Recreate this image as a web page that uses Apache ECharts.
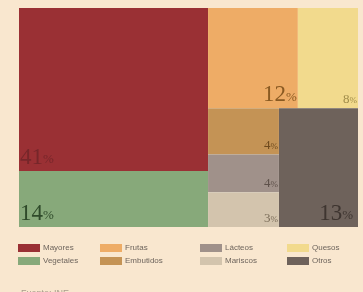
<!DOCTYPE html>
<html>
<head>
<meta charset="utf-8">
<script src="https://cdn.jsdelivr.net/npm/echarts@6/dist/echarts.min.js"></script>
<style>
  html, body { margin: 0; padding: 0; background: #f9e7cf; }
  #chart { width: 363px; height: 292px; }
</style>
</head>
<body>
<div id="chart"></div>
<script>
  // categorías (orden del treemap)
  const categories = ['Mayores', 'Vegetales', 'Frutas', 'Quesos', 'Embutidos', 'Lácteos', 'Mariscos', 'Otros'];
  // porcentajes
  const shares = [41.4, 14.2, 12.1, 8.1, 4.4, 3.6, 3.3, 12.6];
  // orden de la leyenda, por columnas
  const legendColumns = [['Mayores', 'Vegetales'], ['Frutas', 'Embutidos'], ['Lácteos', 'Mariscos'], ['Quesos', 'Otros']];

  const colors = {
    'Mayores': '#9a3034', 'Vegetales': '#87a97a', 'Frutas': '#eeac66', 'Quesos': '#f2da8d',
    'Embutidos': '#c49355', 'Lácteos': '#a0918a', 'Mariscos': '#d3c4ad', 'Otros': '#6e625b'
  };
  const labelColors = {
    'Mayores': '#76262a', 'Vegetales': '#2f4a2a', 'Frutas': '#8a5a22', 'Quesos': '#a08c4a',
    'Embutidos': '#6e4a1e', 'Lácteos': '#5e514a', 'Mariscos': '#7a6c58', 'Otros': '#3e3530'
  };
  const leftSide = ['Mayores', 'Vegetales'];
  const bigLabels = ['Mayores', 'Vegetales', 'Frutas', 'Otros'];

  function leaf(name) {
    const i = categories.indexOf(name);
    const big = bigLabels.includes(name);
    const left = leftSide.includes(name);
    return {
      name: name,
      value: shares[i],
      itemStyle: { color: colors[name] },
      label: {
        show: true,
        align: left ? 'left' : 'right',
        padding: [0, name === 'Otros' ? 5 : 1, 0, 1],
        formatter: function (p) {
          return (big ? '{a|' : '{c|') + Math.round(p.value) + '}' + (big ? '{b|%}' : '{d|%}');
        },
        rich: {
          a: { fontSize: 23, fontFamily: 'Liberation Serif', color: labelColors[name] },
          b: { fontSize: 13, fontFamily: 'Liberation Serif', color: labelColors[name], padding: [5, 0, 0, 0] },
          c: { fontSize: 13, fontFamily: 'Liberation Serif', color: labelColors[name] },
          d: { fontSize: 9, fontFamily: 'Liberation Serif', color: labelColors[name], padding: [2, 0, 0, 0] }
        }
      }
    };
  }

  // jerarquía que reproduce la distribución de bloques
  const treeData = [
    { name: 'izq', children: [leaf('Mayores'), leaf('Vegetales')] },
    {
      name: 'der', children: [
        { name: 'arriba', children: [leaf('Frutas'), leaf('Quesos')] },
        {
          name: 'abajo', children: [
            { name: 'pila', children: [leaf('Embutidos'), leaf('Lácteos'), leaf('Mariscos')] },
            leaf('Otros')
          ]
        }
      ]
    }
  ];

  // series vacías sólo para la leyenda
  const legendSeries = categories.map(function (name) {
    return { type: 'bar', name: name, data: [], itemStyle: { color: colors[name] } };
  });

  const legendLefts = [18, 100, 200, 287];
  const legends = legendColumns.map(function (col, k) {
    return {
      orient: 'vertical',
      left: legendLefts[k],
      top: 244,
      data: col,
      icon: 'rect',
      itemWidth: 22,
      itemHeight: 8,
      itemGap: 5,
      selectedMode: false,
      padding: 0,
      textStyle: { fontSize: 8, color: '#6e655d', fontFamily: 'Liberation Sans', padding: [0, 0, 0, -2] }
    };
  });

  const chart = echarts.init(document.getElementById('chart'), null, { renderer: 'canvas' });
  chart.setOption({
    backgroundColor: '#f9e7cf',
    animation: false,
    title: {
      text: 'Fuente: INE',
      left: 16,
      top: 284,
      textStyle: { fontSize: 9, fontWeight: 'normal', color: '#a89c8c', fontFamily: 'Liberation Sans' }
    },
    legend: legends,
    grid: { show: false, left: 0, top: 0, width: 1, height: 1 },
    xAxis: { show: false, type: 'category', data: [] },
    yAxis: { show: false, type: 'value' },
    series: [{
      type: 'treemap',
      left: 19,
      top: 8,
      right: 5,
      bottom: 65,
      sort: false,
      squareRatio: 1,
      roam: false,
      nodeClick: false,
      breadcrumb: { show: false },
      silent: true,
      itemStyle: { borderWidth: 0, gapWidth: 0 },
      upperLabel: { show: false },
      // etiquetas abajo de cada bloque
      labelLayout: function (p) {
        const lh = p.text && p.text.indexOf('{a|') === 0 ? 25 : 15;
        return {
          x: p.align === 'right' ? p.rect.x + p.rect.width : p.rect.x,
          y: p.rect.y + p.rect.height - lh
        };
      },
      data: treeData
    }].concat(legendSeries)
  });
</script>
</body>
</html>
